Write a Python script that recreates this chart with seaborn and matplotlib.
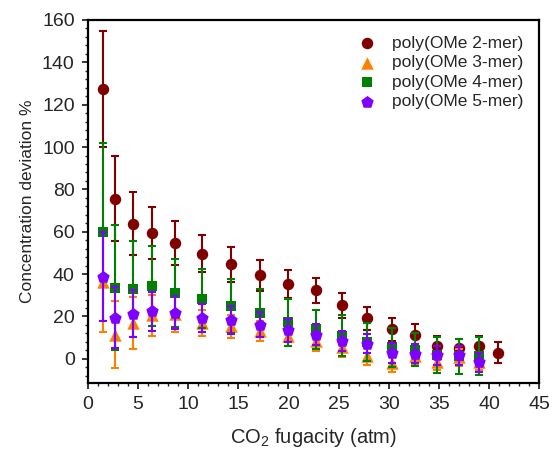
import numpy as np
import pandas as pd
import matplotlib
matplotlib.use("Agg")
import matplotlib.pyplot as plt
from matplotlib.ticker import MultipleLocator
import seaborn as sns

# ---- data ----
fugacity = [1.5, 2.7, 4.45, 6.4, 8.65, 11.4, 14.3, 17.2, 20.0, 22.7, 25.3,
            27.8, 30.3, 32.6, 34.8, 37.0, 39.0, 40.9]

mer2 = [127.5, 75.7, 63.9, 59.5, 54.6, 49.7, 44.6, 39.4, 35.3, 32.3, 25.2,
        19.2, 13.9, 11.4, 6.0, 4.9, 6.3, 3.0]
mer2_err = [27.5, 20.0, 15.0, 12.4, 10.4, 8.7, 8.2, 7.3, 6.6, 6.0, 5.9,
            5.5, 5.3, 5.0, 4.7, 4.6, 4.6, 5.0]

mer3 = [36.3, 11.5, 17.0, 20.5, 21.0, 17.0, 15.4, 13.1, 10.9, 8.3, 5.5,
        1.2, -1.9, 1.2, -1.4, 0.8, -1.4]
mer3_err = [23.7, 16.0, 12.2, 9.7, 8.4, 6.3, 5.5, 4.8, 4.8, 4.5, 4.5,
            4.0, 4.2, 4.0, 4.0, 4.0, 4.0]

mer4 = [60.1, 33.6, 33.1, 34.4, 31.2, 28.4, 24.9, 21.8, 17.2, 13.9, 11.0,
        7.9, 5.5, 4.3, 1.9, 1.2, 1.2]
mer4_err = [42.0, 29.5, 22.6, 19.0, 16.0, 14.0, 12.6, 11.3, 11.0, 9.4, 9.5,
            9.0, 9.2, 7.8, 8.5, 8.2, 9.0]

mer5 = [38.8, 19.4, 21.4, 22.5, 21.8, 19.4, 18.3, 16.2, 13.4, 11.5, 8.3,
        7.2, 2.8, 2.5, 1.6, 1.6, -1.6]
mer5_err = [21.0, 14.5, 11.0, 9.3, 7.7, 6.7, 6.5, 5.9, 5.6, 5.0, 4.7,
            4.5, 4.7, 4.5, 4.5, 4.5, 4.4]

labels = ["poly(OMe 2-mer)", "poly(OMe 3-mer)", "poly(OMe 4-mer)", "poly(OMe 5-mer)"]
x_ticks = [0, 5, 10, 15, 20, 25, 30, 35, 40, 45]
y_ticks = [0, 20, 40, 60, 80, 100, 120, 140, 160]

# ---- style ----
sns.set_style("white")
plt.rcParams['font.family'] = ['Liberation Sans', 'DejaVu Sans']
plt.rcParams['mathtext.fontset'] = 'custom'
plt.rcParams['mathtext.rm'] = 'Liberation Sans'
plt.rcParams['mathtext.it'] = 'Liberation Sans:italic'

colors = ["#800000", "#FF8000", "#008000", "#8000FF"]
markers = ["o", "^", "s", "p"]
sizes = [68, 80, 52, 88]

series = [(mer2, mer2_err), (mer3, mer3_err), (mer4, mer4_err), (mer5, mer5_err)]

fig = plt.figure(figsize=(5.53, 4.53), dpi=100)
ax = fig.add_axes([0.159, 0.1545, 0.816, 0.8015])

for i, ((vals, errs), lab) in enumerate(zip(series, labels)):
    n = len(vals)
    df = pd.DataFrame({"x": fugacity[:n], "y": vals, "err": errs})
    ax.errorbar(df["x"], df["y"], yerr=df["err"], fmt="none",
                ecolor=colors[i], elinewidth=1.5, capsize=3.2, capthick=1.5,
                zorder=2 + 2 * i, label="_nolegend_")
    sns.scatterplot(data=df, x="x", y="y", ax=ax, color=colors[i],
                    marker=markers[i], s=sizes[i], linewidth=0,
                    zorder=3 + 2 * i, label=lab)

ax.set_xlim(0, 45)
ax.set_ylim(-11.4, 160)
ax.set_xticks(x_ticks)
ax.set_yticks(y_ticks)
ax.xaxis.set_minor_locator(MultipleLocator(1))
ax.yaxis.set_minor_locator(MultipleLocator(4))
ax.tick_params(axis="both", which="major", direction="out", length=4.5, width=1.3,
               labelsize=14, bottom=True, left=True, top=False, right=False, pad=5)
ax.tick_params(axis="both", which="minor", direction="out", length=2.5, width=1.0,
               bottom=True, left=True, top=False, right=False)
for sp in ax.spines.values():
    sp.set_visible(True)
    sp.set_color("black")
    sp.set_linewidth(1.6)

ax.set_xlabel("CO$_2$ fugacity (atm)", fontsize=14.5, labelpad=9)
ax.set_ylabel("Concentration deviation %", fontsize=12.5, labelpad=5)

ax.legend(loc="upper right", frameon=False, fontsize=12.5, labelspacing=0.25,
          handletextpad=0.7, borderaxespad=0.5, handlelength=1.5)

fig.savefig("out.png", dpi=100)
